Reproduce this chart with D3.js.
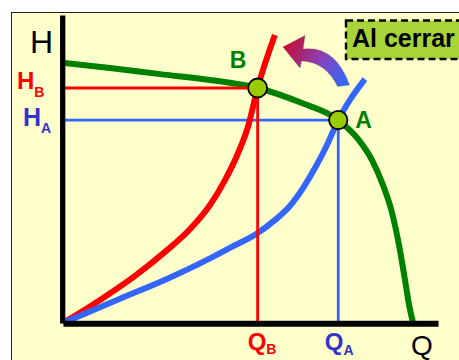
<!DOCTYPE html>
<html>
<head>
<meta charset="utf-8">
<script src="https://cdn.jsdelivr.net/npm/d3@7/dist/d3.min.js"></script>
<style>
  html, body { margin: 0; padding: 0; background: #fff; }
  svg { display: block; font-family: "Liberation Sans", Arial, sans-serif; }
</style>
</head>
<body>
<svg id="chart" width="459" height="360"></svg>
<script>
// Pump curve (H–Q) and two system curves: valve open (A) and closing (B)
const pumpCurve = [
  [0.5, 84.4], [12.5, 82.8], [25.9, 80.8], [39.2, 78.9], [51.9, 76.3],
  [63.7, 71.4], [73.4, 65.9], [78.7, 59.7], [82.4, 52.9], [85.1, 45.5],
  [87.7, 36.0], [89.6, 25.3], [91.2, 14.0], [92.3, 5.8], [93.3, 0.3]
];
const systemClosed = [
  [0, 0], [9.9, 7.5], [19.2, 15.3], [27.2, 23.1], [33.9, 30.5], [39.2, 38.3],
  [43.2, 46.4], [46.7, 55.2], [49.3, 63.6], [51.9, 76.3], [56.5, 93.5]
];
const systemOpen = [
  [0, 0], [14.4, 7.5], [27.7, 14.3], [38.4, 20.5], [44.5, 24.4], [51.5, 28.9],
  [56.5, 33.4], [60.5, 38.0], [64.0, 43.8], [67.2, 50.3], [70.4, 57.8],
  [73.4, 65.9], [76.5, 72.4], [80.5, 79.2]
];
// Operating points
const pointA = { q: 73.4, h: 65.9 };
const pointB = { q: 51.9, h: 76.3 };
const noteText = "Al cerrar";

const svg = d3.select("#chart");

const x = d3.scaleLinear().domain([0, 100]).range([63, 438]);
const y = d3.scaleLinear().domain([0, 100]).range([323, 15]);

// panel
svg.append("rect")
  .attr("x", 11.5).attr("y", 12.5).attr("width", 470).attr("height", 370)
  .attr("fill", "#FFFFCC").attr("stroke", "#222").attr("stroke-width", 1);

const green = "#008000", red = "#FF0000", blue = "#3366FF", labelBlue = "#3333CC";

const line = d3.line().x(d => x(d[0])).y(d => y(d[1])).curve(d3.curveMonotoneX);

// guide lines for A
const gA = svg.append("g").attr("stroke", blue).attr("stroke-width", 2.8);
gA.append("line").attr("x1", x(0)).attr("x2", x(pointA.q)).attr("y1", y(pointA.h)).attr("y2", y(pointA.h));
gA.append("line").attr("x1", x(pointA.q)).attr("x2", x(pointA.q)).attr("y1", y(pointA.h)).attr("y2", y(0));

// curves
svg.append("path").datum(pumpCurve).attr("d", line)
  .attr("fill", "none").attr("stroke", green).attr("stroke-width", 6);
svg.append("path").datum(systemClosed).attr("d", line)
  .attr("fill", "none").attr("stroke", red).attr("stroke-width", 6);
svg.append("path").datum(systemOpen).attr("d", line)
  .attr("fill", "none").attr("stroke", blue).attr("stroke-width", 6);

// guide lines for B
const gB = svg.append("g").attr("stroke", red).attr("stroke-width", 2.8);
gB.append("line").attr("x1", x(0)).attr("x2", x(pointB.q)).attr("y1", y(pointB.h)).attr("y2", y(pointB.h));
gB.append("line").attr("x1", x(pointB.q)).attr("x2", x(pointB.q)).attr("y1", y(pointB.h)).attr("y2", y(0));

// axes: thick bare lines
const yAxis = svg.append("g").attr("transform", "translate(62.2,0)")
  .call(d3.axisLeft(y).ticks(0).tickSizeOuter(0));
const xAxis = svg.append("g").attr("transform", "translate(0,323.2)")
  .call(d3.axisBottom(x).ticks(0).tickSizeOuter(0));
yAxis.select(".domain").attr("stroke", "#000").attr("stroke-width", 5.3);
xAxis.select(".domain").attr("stroke", "#000").attr("stroke-width", 6);

// operating points
svg.append("circle").attr("cx", x(pointB.q)).attr("cy", y(pointB.h)).attr("r", 9.5)
  .attr("fill", "#99CC00").attr("stroke", "#000").attr("stroke-width", 1.8);
svg.append("circle").attr("cx", x(pointA.q)).attr("cy", y(pointA.h)).attr("r", 9.2)
  .attr("fill", "#99CC00").attr("stroke", "#000").attr("stroke-width", 1.8);

// curved arrow from A towards B
const defs = svg.append("defs");
const grad = defs.append("linearGradient").attr("id", "arrowGrad")
  .attr("gradientUnits", "userSpaceOnUse")
  .attr("x1", 346).attr("y1", 86).attr("x2", 286).attr("y2", 47);
grad.append("stop").attr("offset", 0).attr("stop-color", "#2F6BFF");
grad.append("stop").attr("offset", 0.5).attr("stop-color", "#8A40B8");
grad.append("stop").attr("offset", 1).attr("stop-color", "#C2103A");
const ap = d3.path();
ap.moveTo(283, 47);
ap.lineTo(305, 35.5);
ap.lineTo(303, 49);
ap.quadraticCurveTo(335, 45, 349.5, 85);
ap.lineTo(337.5, 86.5);
ap.quadraticCurveTo(326, 62, 301.5, 61);
ap.lineTo(300, 68);
ap.closePath();
svg.append("path").attr("d", ap.toString())
  .attr("fill", "url(#arrowGrad)")
  .attr("stroke", "#333").attr("stroke-opacity", 0.6)
  .attr("stroke-width", 0.8).attr("stroke-dasharray", "1.2,1.2");

// note box
svg.append("rect").attr("x", 346).attr("y", 20.5).attr("width", 130).attr("height", 38.5)
  .attr("fill", "#A8D43A").attr("stroke", "#000").attr("stroke-width", 2.4)
  .attr("stroke-dasharray", "7,4");
svg.append("text").attr("x", 352).attr("y", 47).attr("font-size", 25)
  .attr("font-weight", "bold").attr("fill", "#000").text(noteText);

// labels with subscripts
function subLabel(px, py, main, sub, color, size, subSize, subDx, subDy) {
  const t = svg.append("text").attr("x", px).attr("y", py)
    .attr("fill", color).attr("font-weight", "bold").attr("font-size", size);
  t.append("tspan").text(main);
  t.append("tspan").attr("font-size", subSize).attr("dx", subDx).attr("dy", subDy).text(sub);
}
subLabel(17, y(pointB.h) + 1, "H", "B", red, 24, 14, 0, 8);
subLabel(23, y(pointA.h) + 6, "H", "A", labelBlue, 25, 14, 0, 7);
subLabel(x(pointB.q) - 10, 350, "Q", "B", red, 24, 14, 0, 4);
subLabel(x(pointA.q) - 13.5, 350, "Q", "A", labelBlue, 24, 14, 0, 5);

// axis titles
svg.append("text").attr("x", 30).attr("y", 53).attr("font-size", 32).attr("fill", "#000").text("H");
svg.append("text").attr("x", 411).attr("y", 355).attr("font-size", 28).attr("fill", "#000").text("Q");

// point names
svg.append("text").attr("x", x(pointB.q) - 28).attr("y", y(pointB.h) - 20)
  .attr("font-size", 23).attr("font-weight", "bold").attr("fill", green).text("B");
svg.append("text").attr("x", x(pointA.q) + 17).attr("y", y(pointA.h) + 8)
  .attr("font-size", 23).attr("font-weight", "bold").attr("fill", green).text("A");
</script>
</body>
</html>
